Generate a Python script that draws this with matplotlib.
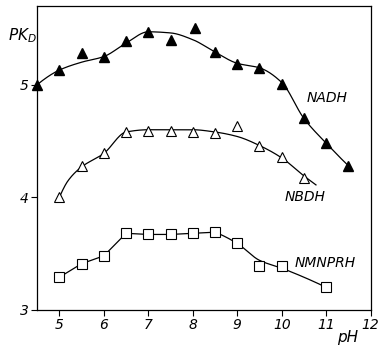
import numpy as np
import matplotlib
matplotlib.use("Agg")
import matplotlib.pyplot as plt

# measured points
ph_nadh = [4.5, 5.0, 5.5, 6.0, 6.5, 7.0, 7.5, 8.05, 8.5, 9.0, 9.5, 10.0, 10.5, 11.0, 11.5]
pk_nadh = [5.00, 5.13, 5.28, 5.25, 5.39, 5.47, 5.40, 5.50, 5.29, 5.18, 5.15, 5.01, 4.70, 4.48, 4.28]

ph_nbdh = [5.0, 5.5, 6.0, 6.5, 7.0, 7.5, 8.0, 8.5, 9.0, 9.5, 10.0, 10.5]
pk_nbdh = [4.00, 4.28, 4.39, 4.58, 4.59, 4.59, 4.58, 4.57, 4.63, 4.46, 4.36, 4.17]

ph_nmn = [5.0, 5.5, 6.0, 6.5, 7.0, 7.5, 8.0, 8.5, 9.0, 9.5, 10.0, 11.0]
pk_nmn = [3.29, 3.41, 3.48, 3.68, 3.67, 3.67, 3.68, 3.69, 3.59, 3.39, 3.39, 3.20]

# hand-drawn curves, knots
cx_nadh = [4.5, 5.0, 5.5, 6.0, 6.5, 7.0, 7.5, 8.0, 8.5, 9.0, 9.5, 10.0, 10.5, 11.0, 11.5]
cy_nadh = [5.00, 5.13, 5.20, 5.25, 5.37, 5.47, 5.46, 5.40, 5.29, 5.19, 5.15, 5.02, 4.70, 4.48, 4.28]

cx_nbdh = [5.0, 5.2, 5.5, 6.0, 6.5, 7.0, 8.0, 8.5, 9.0, 9.5, 10.0, 10.5, 10.77]
cy_nbdh = [4.00, 4.15, 4.27, 4.39, 4.58, 4.60, 4.60, 4.58, 4.54, 4.46, 4.35, 4.19, 4.11]

cx_nmn = [5.0, 5.5, 6.0, 6.5, 7.0, 7.5, 8.0, 8.5, 9.0, 9.5, 10.0, 10.5, 11.0]
cy_nmn = [3.29, 3.41, 3.48, 3.68, 3.67, 3.67, 3.68, 3.69, 3.59, 3.44, 3.37, 3.29, 3.20]


def pchip(x, y, n=400):
    """Monotone cubic through the knots (numpy only)."""
    x = np.asarray(x, float)
    y = np.asarray(y, float)
    h = np.diff(x)
    d = np.diff(y) / h
    m = np.zeros_like(y)
    for k in range(1, len(x) - 1):
        if d[k - 1] * d[k] > 0:
            w1 = 2 * h[k] + h[k - 1]
            w2 = h[k] + 2 * h[k - 1]
            m[k] = (w1 + w2) / (w1 / d[k - 1] + w2 / d[k])
    # three-point end slopes
    m[0] = ((2 * h[0] + h[1]) * d[0] - h[0] * d[1]) / (h[0] + h[1])
    m[-1] = ((2 * h[-1] + h[-2]) * d[-1] - h[-1] * d[-2]) / (h[-1] + h[-2])
    xs = np.linspace(x[0], x[-1], n)
    idx = np.clip(np.searchsorted(x, xs) - 1, 0, len(h) - 1)
    t = (xs - x[idx]) / h[idx]
    h00 = 2 * t**3 - 3 * t**2 + 1
    h10 = t**3 - 2 * t**2 + t
    h01 = -2 * t**3 + 3 * t**2
    h11 = t**3 - t**2
    ys = h00 * y[idx] + h10 * h[idx] * m[idx] + h01 * y[idx + 1] + h11 * h[idx] * m[idx + 1]
    return xs, ys


plt.rcParams["font.family"] = ["DejaVu Sans"]
fig = plt.figure(figsize=(3.79, 3.47), dpi=100)
ax = fig.add_axes([0.098, 0.107, 0.880, 0.876])

lw = 0.9
for cx, cy in [(cx_nadh, cy_nadh), (cx_nbdh, cy_nbdh)]:
    xs, ys = pchip(cx, cy)
    ax.plot(xs, ys, color="black", lw=lw)
# NMNPRH: straight segments up to 8.5, smooth after
ax.plot(cx_nmn[:8], cy_nmn[:8], color="black", lw=lw)
xs, ys = pchip(cx_nmn[7:], cy_nmn[7:])
ax.plot(xs, ys, color="black", lw=lw)

ax.plot(ph_nadh, pk_nadh, ls="none", marker="^", ms=6.5, mfc="black", mec="black", clip_on=False)
ax.plot(ph_nbdh, pk_nbdh, ls="none", marker="^", ms=6.5, mfc="white", mec="black", mew=0.8)
ax.plot(ph_nmn, pk_nmn, ls="none", marker="s", ms=7, mfc="white", mec="black", mew=0.8)

ax.set_xlim(4.5, 12)
ax.set_ylim(3, 5.7)
ax.set_xticks(range(5, 13))
ax.set_yticks([3, 4, 5])
ax.tick_params(direction="out", length=4, width=0.8, labelsize=10, pad=2)
for lab in ax.get_xticklabels() + ax.get_yticklabels():
    lab.set_fontstyle("italic")
for s in ax.spines.values():
    s.set_linewidth(0.9)

ax.text(10.55, 4.85, "NADH", fontsize=10, style="italic")
ax.text(10.07, 3.97, "NBDH", fontsize=10, style="italic")
ax.text(10.3, 3.38, "NMNPRH", fontsize=10, style="italic")
fig.text(0.022, 0.885, r"$\mathit{PK_D}$", fontsize=11)
fig.text(0.89, 0.015, "pH", fontsize=11, style="italic")

fig.savefig("out.png", dpi=100)
